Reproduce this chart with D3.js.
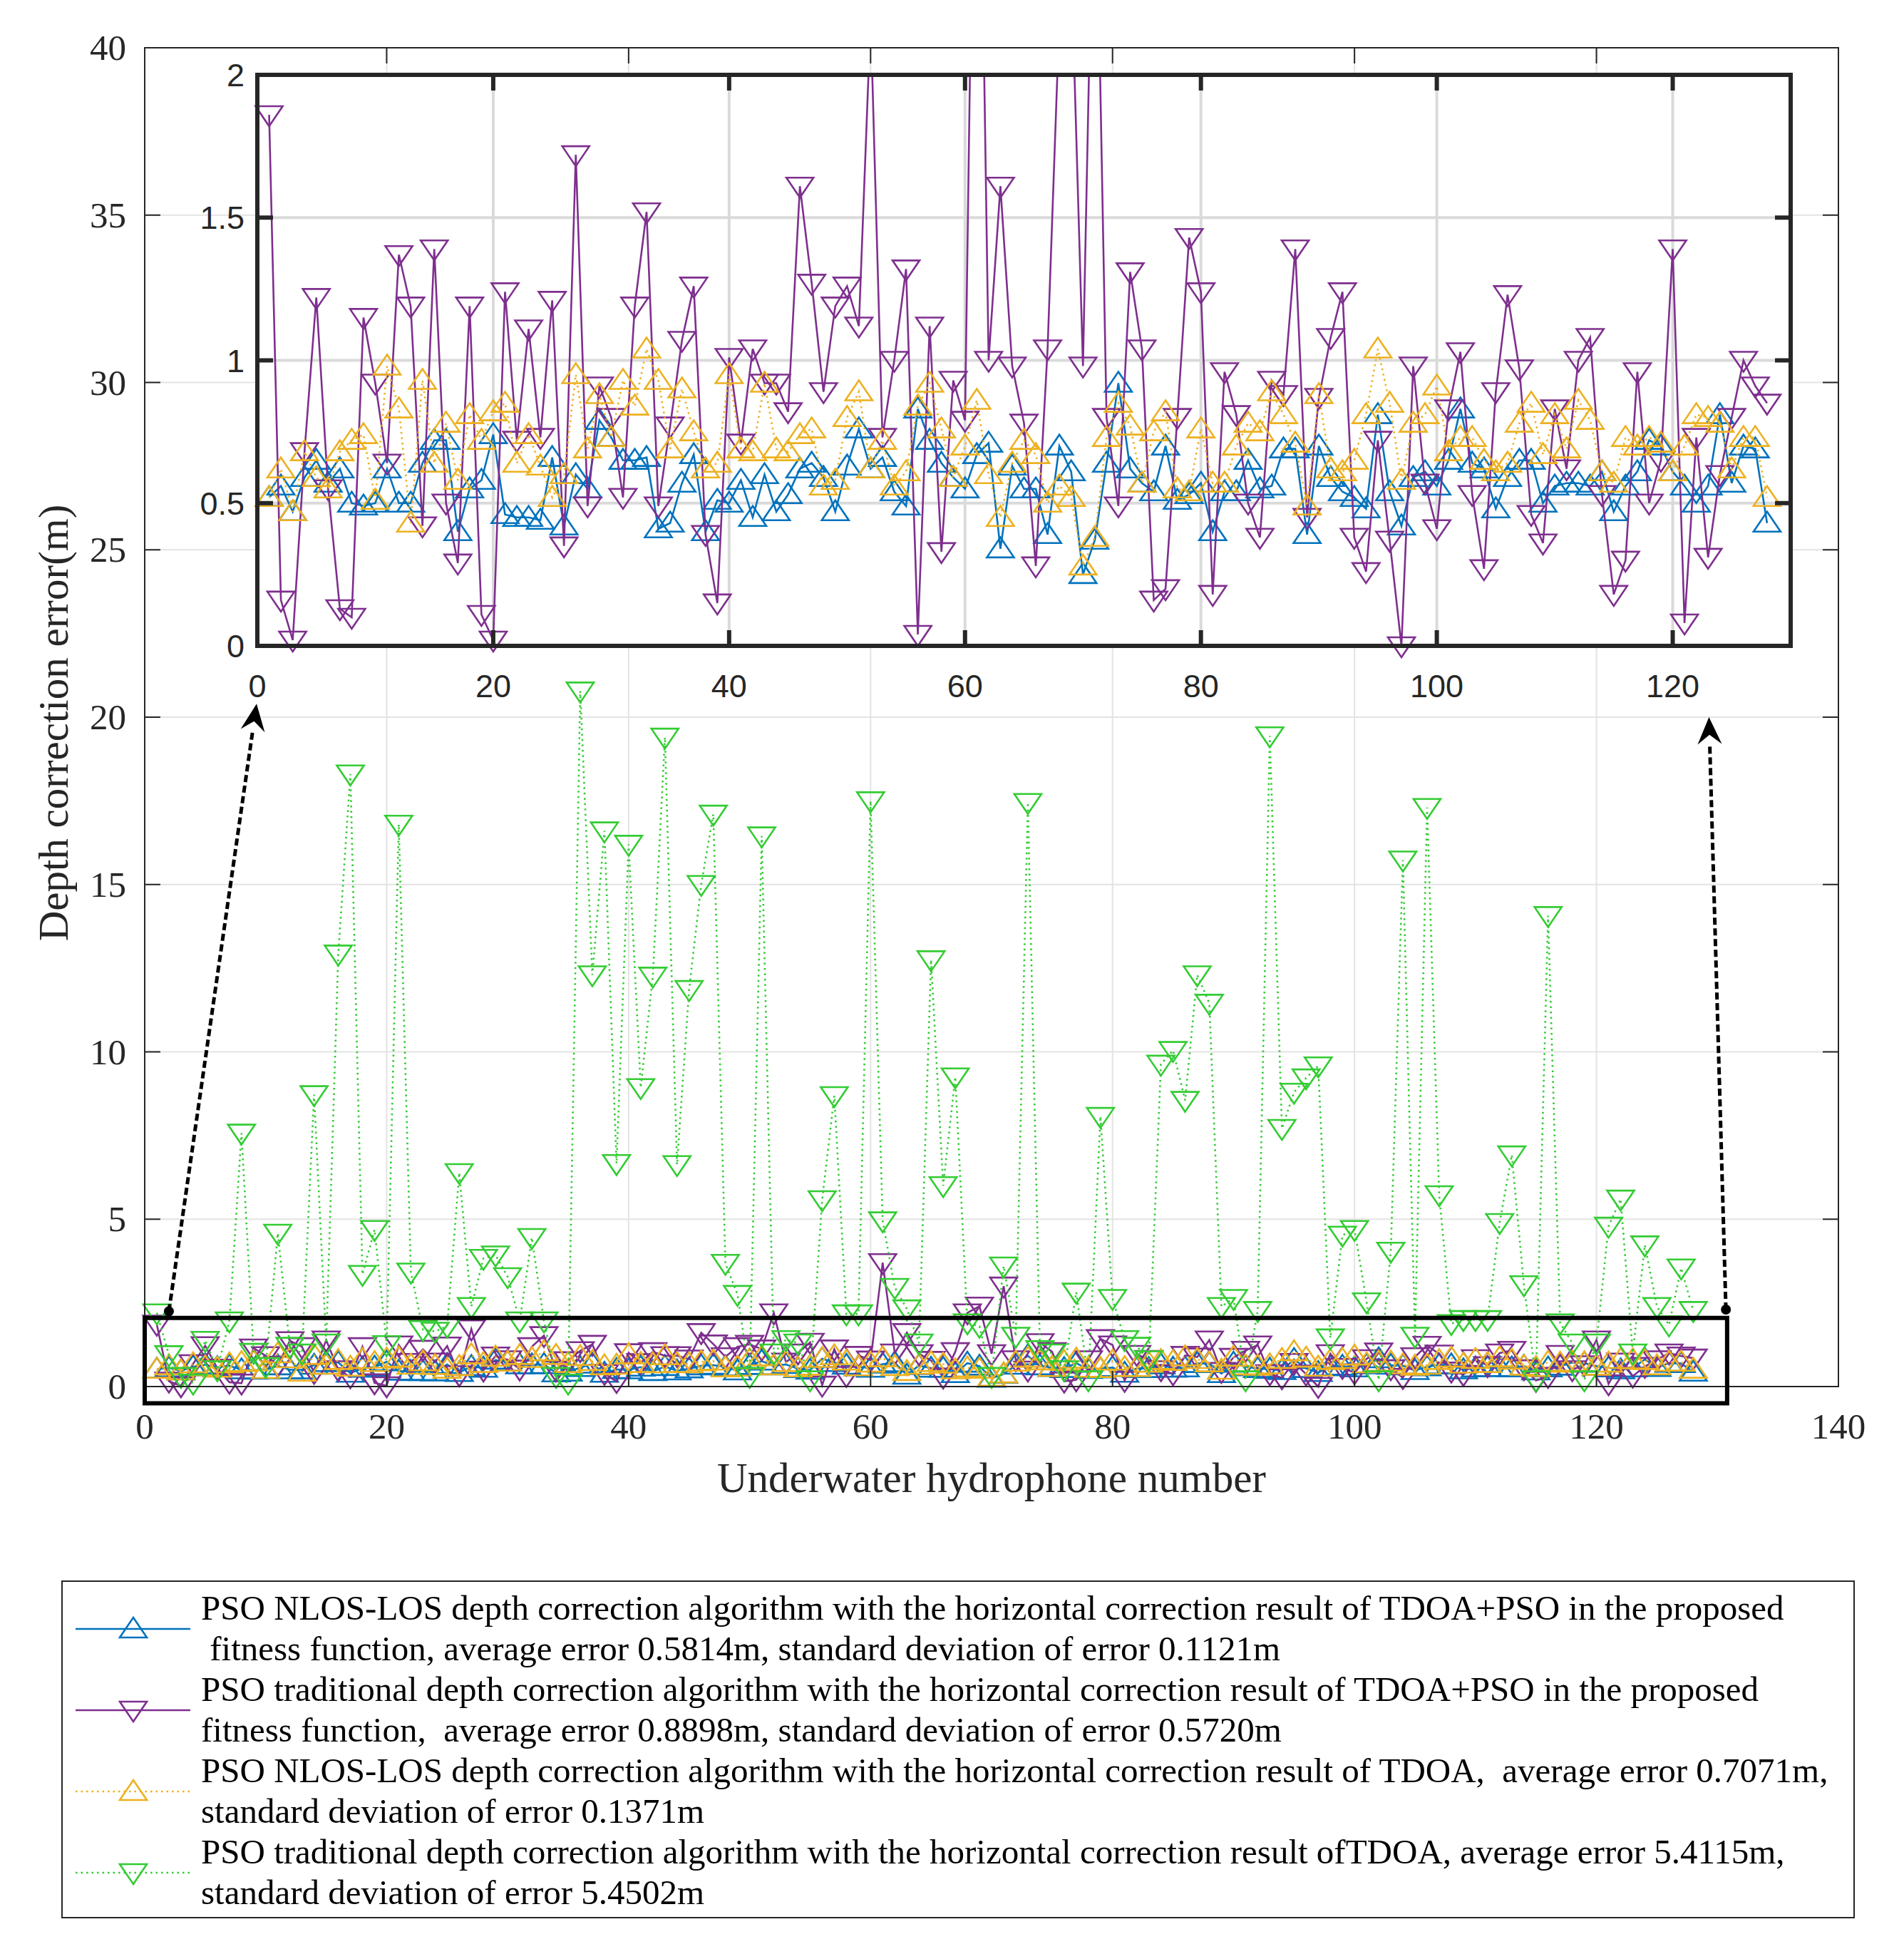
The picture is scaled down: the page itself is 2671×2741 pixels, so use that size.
<!DOCTYPE html>
<html lang="en">
<head>
<meta charset="UTF-8">
<title>Depth correction error</title>
<script src="https://d3js.org/d3.v7.min.js"></script>
<style>
  body { margin: 0; background: #fff; }
  svg text { fill: #262626; }
</style>
</head>
<body>
<script>
// hydrophone numbers (categories)
const hydrophone = d3.range(1, 129);

// PSO NLOS-LOS, TDOA+PSO horizontal correction (blue)
const nlosTdoaPso = [0.52,0.56,0.47,0.59,0.65,0.57,0.62,0.50,0.49,0.50,
  0.62,0.50,0.50,0.64,0.72,0.72,0.40,0.55,0.58,0.74,
  0.46,0.45,0.45,0.44,0.66,0.42,0.60,0.55,0.79,0.73,
  0.65,0.65,0.66,0.41,0.43,0.57,0.67,0.40,0.51,0.50,
  0.58,0.45,0.60,0.47,0.53,0.62,0.64,0.59,0.47,0.63,
  0.76,0.62,0.66,0.54,0.49,0.83,0.72,0.64,0.59,0.55,
  0.67,0.71,0.34,0.63,0.55,0.55,0.39,0.70,0.61,0.25,
  0.37,0.64,0.92,0.62,0.57,0.54,0.70,0.51,0.53,0.57,
  0.40,0.54,0.54,0.65,0.55,0.56,0.69,0.69,0.39,0.70,
  0.59,0.54,0.52,0.48,0.81,0.54,0.42,0.59,0.61,0.56,
  0.65,0.83,0.64,0.62,0.48,0.59,0.65,0.65,0.50,0.56,
  0.57,0.57,0.56,0.61,0.47,0.56,0.61,0.72,0.70,0.61,
  0.56,0.50,0.56,0.81,0.57,0.70,0.69,0.43];

// PSO traditional, TDOA+PSO horizontal correction (purple)
const tradTdoaPso = [1.86,0.16,0.02,0.68,1.22,0.55,0.13,0.10,1.15,0.92,
  0.64,1.37,1.19,0.42,1.39,0.50,0.29,1.19,0.11,0.02,
  1.24,0.72,1.11,0.73,1.21,0.35,1.72,0.49,0.91,0.80,
  0.52,1.19,1.52,0.49,0.77,1.07,1.26,0.39,0.15,1.01,
  0.71,1.04,0.92,0.92,0.82,1.61,1.27,0.89,1.19,1.26,
  1.12,2.20,0.73,1.00,1.32,0.04,1.12,0.33,0.93,0.79,
  3.70,1.00,1.61,0.98,0.78,0.28,1.04,2.20,2.40,0.98,
  3.00,0.80,0.49,1.31,1.04,0.16,0.20,0.80,1.43,1.24,
  0.18,0.96,0.81,0.50,0.38,0.93,0.88,1.39,0.45,0.87,
  1.08,1.24,0.38,0.26,0.72,0.37,0.00,0.98,0.57,0.41,
  0.83,1.03,0.53,0.27,0.89,1.23,0.97,0.46,0.36,0.83,
  0.62,1.00,1.08,0.53,0.18,0.30,0.96,0.50,0.65,1.39,
  0.08,0.73,0.31,0.60,0.80,1.00,0.91,0.85];

// PSO NLOS-LOS, TDOA horizontal correction (orange)
const nlosTdoa = [0.52,0.62,0.47,0.68,0.59,0.55,0.68,0.72,0.74,0.51,
  0.98,0.83,0.43,0.93,0.64,0.78,0.58,0.81,0.72,0.82,
  0.85,0.64,0.74,0.63,0.52,0.60,0.95,0.69,0.88,0.73,
  0.93,0.84,1.04,0.93,0.69,0.90,0.75,0.62,0.64,0.95,
  0.69,0.68,0.92,0.69,0.68,0.74,0.76,0.56,0.58,0.80,
  0.89,0.62,0.72,0.56,0.61,0.84,0.92,0.76,0.59,0.70,
  0.86,0.60,0.45,0.64,0.72,0.67,0.50,0.56,0.52,0.28,
  0.38,0.73,0.85,0.77,0.57,0.75,0.82,0.55,0.54,0.76,
  0.57,0.57,0.70,0.78,0.75,0.89,0.81,0.71,0.49,0.88,
  0.62,0.61,0.65,0.81,1.04,0.85,0.58,0.78,0.81,0.91,
  0.68,0.73,0.73,0.65,0.61,0.64,0.78,0.85,0.67,0.81,
  0.69,0.86,0.79,0.61,0.57,0.73,0.70,0.73,0.71,0.61,
  0.70,0.81,0.80,0.78,0.62,0.73,0.73,0.52];

// PSO traditional, TDOA horizontal correction (green)
const tradTdoa = [2.20,0.95,0.30,0.10,1.38,0.50,1.96,7.57,1.02,0.60,
  4.58,1.20,1.00,8.72,1.30,12.92,18.30,3.35,4.69,1.25,
  16.80,3.42,1.70,1.65,1.80,6.39,2.39,3.83,3.93,3.28,
  1.96,4.45,1.96,0.30,0.10,20.78,12.30,16.60,6.66,16.20,
  8.93,12.26,19.40,6.63,11.86,15.00,17.10,3.68,2.75,0.30,
  16.45,1.00,1.40,1.30,0.20,5.58,8.69,2.17,2.17,17.50,
  4.95,2.96,2.32,1.30,12.75,6.00,9.25,1.90,1.80,0.30,
  3.60,1.50,17.45,1.10,1.00,0.50,2.82,0.20,8.07,2.63,
  1.40,1.20,0.80,9.63,10.04,8.55,12.30,11.45,2.39,2.63,
  0.20,2.27,19.44,7.71,8.79,9.22,9.58,1.45,4.52,4.69,
  2.53,0.20,4.04,15.73,1.50,17.30,5.73,1.88,2.00,2.00,
  2.00,4.90,6.92,3.04,0.20,14.07,1.90,1.30,0.20,1.30,
  4.79,5.60,1.00,4.23,2.39,1.84,3.54,2.27];

// ticks
const mainXTicks = [0, 20, 40, 60, 80, 100, 120, 140];
const mainYTicks = [0, 5, 10, 15, 20, 25, 30, 35, 40];
const insetXTicks = [0, 20, 40, 60, 80, 100, 120];
const insetYTicks = [0, 0.5, 1, 1.5, 2];

// zoom box and arrows, in main data units
const zoomBox = {x0: 0, x1: 130.8, y0: -0.5, y1: 2.05};
const zoomArrows = [
  {from: [2.0, 2.25], to: [9.25, 20.4]},
  {from: [130.7, 2.3], to: [129.3, 20.0]}
];

// legend text
const legendLines = [
  ["PSO NLOS-LOS depth correction algorithm with the horizontal correction result of TDOA+PSO in the proposed",
   " fitness function, average error 0.5814m, standard deviation of error 0.1121m"],
  ["PSO traditional depth correction algorithm with the horizontal correction result of TDOA+PSO in the proposed",
   "fitness function,  average error 0.8898m, standard deviation of error 0.5720m"],
  ["PSO NLOS-LOS depth correction algorithm with the horizontal correction result of TDOA,  average error 0.7071m,",
   "standard deviation of error 0.1371m"],
  ["PSO traditional depth correction algorithm with the horizontal correction result ofTDOA, average error 5.4115m,",
   "standard deviation of error 5.4502m"]
];

const series = [
  {values: nlosTdoaPso, color: "#0072BD", dash: null, marker: "up", inset: true},
  {values: tradTdoaPso, color: "#7E2F8E", dash: null, marker: "down", inset: true},
  {values: nlosTdoa, color: "#EDB120", dash: "2.5,5", marker: "up", inset: true},
  {values: tradTdoa, color: "#33CC33", dash: "2.5,5", marker: "down", inset: false}
];

const W = 2671, H = 2741;
const svg = d3.select("body").append("svg")
  .attr("width", W).attr("height", H)
  .style("font-family", "'Liberation Serif', 'Times New Roman', serif");

svg.append("rect").attr("width", W).attr("height", H).attr("fill", "#fff");

const markerPath = {
  up: "M0,-16L19,12L-19,12Z",
  down: "M0,16L19,-12L-19,-12Z"
};

// ---------- main axes ----------
const mx = d3.scaleLinear().domain([0, 140]).range([203, 2579]);
const my = d3.scaleLinear().domain([0, 40]).range([1945, 67]);

const main = svg.append("g");

// grid
main.append("g").selectAll("line").data(mainXTicks.slice(1, -1)).join("line")
  .attr("x1", d => mx(d)).attr("x2", d => mx(d))
  .attr("y1", my(0)).attr("y2", my(40))
  .attr("stroke", "#e3e3e3").attr("stroke-width", 2);
main.append("g").selectAll("line").data(mainYTicks.slice(1, -1)).join("line")
  .attr("x1", mx(0)).attr("x2", mx(140))
  .attr("y1", d => my(d)).attr("y2", d => my(d))
  .attr("stroke", "#e3e3e3").attr("stroke-width", 2);

function drawSeries(g, s, xs, ys, clipMarkers) {
  const line = d3.line().x((d, i) => xs(hydrophone[i])).y(d => ys(d));
  g.append("path").datum(s.values)
    .attr("d", line)
    .attr("fill", "none")
    .attr("stroke", s.color)
    .attr("stroke-width", 2.6)
    .attr("stroke-dasharray", s.dash);
  const pts = s.values.map((v, i) => ({x: hydrophone[i], y: v}))
    .filter(p => !clipMarkers || (p.y >= ys.domain()[0] && p.y <= ys.domain()[1]));
  g.append("g").selectAll("path").data(pts).join("path")
    .attr("d", markerPath[s.marker])
    .attr("transform", p => `translate(${xs(p.x)},${ys(p.y)})`)
    .attr("fill", "none")
    .attr("stroke", s.color)
    .attr("stroke-width", 2.6);
}

series.forEach(s => drawSeries(main.append("g"), s, mx, my, false));

// box + ticks
main.append("rect")
  .attr("x", mx(0)).attr("y", my(40))
  .attr("width", mx(140) - mx(0)).attr("height", my(0) - my(40))
  .attr("fill", "none").attr("stroke", "#262626").attr("stroke-width", 2);

const tickLen = 22;
mainXTicks.forEach(t => {
  main.append("line").attr("x1", mx(t)).attr("x2", mx(t))
    .attr("y1", my(0)).attr("y2", my(0) - tickLen)
    .attr("stroke", "#262626").attr("stroke-width", 2);
  main.append("line").attr("x1", mx(t)).attr("x2", mx(t))
    .attr("y1", my(40)).attr("y2", my(40) + tickLen)
    .attr("stroke", "#262626").attr("stroke-width", 2);
});
mainYTicks.forEach(t => {
  main.append("line").attr("x1", mx(0)).attr("x2", mx(0) + tickLen)
    .attr("y1", my(t)).attr("y2", my(t))
    .attr("stroke", "#262626").attr("stroke-width", 2);
  main.append("line").attr("x1", mx(140)).attr("x2", mx(140) - tickLen)
    .attr("y1", my(t)).attr("y2", my(t))
    .attr("stroke", "#262626").attr("stroke-width", 2);
});

main.append("g").selectAll("text").data(mainXTicks).join("text")
  .attr("x", d => mx(d)).attr("y", my(0) + 73)
  .attr("text-anchor", "middle").attr("font-size", 51)
  .text(d => d);
main.append("g").selectAll("text").data(mainYTicks).join("text")
  .attr("x", mx(0) - 26).attr("y", d => my(d) + 17)
  .attr("text-anchor", "end").attr("font-size", 51)
  .text(d => d);

main.append("text")
  .attr("x", (mx(0) + mx(140)) / 2).attr("y", 2093)
  .attr("text-anchor", "middle").attr("font-size", 59)
  .text("Underwater hydrophone number");
main.append("text")
  .attr("transform", `translate(95,${(my(0) + my(40)) / 2 + 8}) rotate(-90)`)
  .attr("text-anchor", "middle").attr("font-size", 59)
  .text("Depth correction error(m)");

// zoom box
main.append("rect")
  .attr("x", mx(zoomBox.x0)).attr("y", my(zoomBox.y1))
  .attr("width", mx(zoomBox.x1) - mx(zoomBox.x0))
  .attr("height", my(zoomBox.y0) - my(zoomBox.y1))
  .attr("fill", "none").attr("stroke", "#000").attr("stroke-width", 6);

// arrows
zoomArrows.forEach(a => {
  const x1 = mx(a.from[0]), y1 = my(a.from[1]);
  const x2 = mx(a.to[0]), y2 = my(a.to[1]);
  const ang = Math.atan2(y2 - y1, x2 - x1);
  const headL = 38, headW = 17;
  const bx = x2 - headL * Math.cos(ang), by = y2 - headL * Math.sin(ang);
  main.append("line")
    .attr("x1", x1).attr("y1", y1).attr("x2", bx).attr("y2", by)
    .attr("stroke", "#000").attr("stroke-width", 5)
    .attr("stroke-dasharray", "10,5");
  const px = -Math.sin(ang), py = Math.cos(ang);
  main.append("path")
    .attr("d", `M${x2},${y2}L${bx + px * headW},${by + py * headW}L${bx + 0.35 * headL * Math.cos(ang)},${by + 0.35 * headL * Math.sin(ang)}L${bx - px * headW},${by - py * headW}Z`)
    .attr("fill", "#000");
  main.append("circle").attr("cx", x1).attr("cy", y1).attr("r", 7).attr("fill", "#000");
});

// ---------- inset axes ----------
const ix = d3.scaleLinear().domain([0, 130]).range([361, 2512]);
const iy = d3.scaleLinear().domain([0, 2]).range([906, 105]);

const inset = svg.append("g").style("font-family", "'Liberation Sans', Arial, sans-serif");
inset.append("rect")
  .attr("x", ix(0)).attr("y", iy(2))
  .attr("width", ix(130) - ix(0)).attr("height", iy(0) - iy(2))
  .attr("fill", "#fff");

inset.append("g").selectAll("line").data(insetXTicks.slice(1)).join("line")
  .attr("x1", d => ix(d)).attr("x2", d => ix(d))
  .attr("y1", iy(0)).attr("y2", iy(2))
  .attr("stroke", "#dadada").attr("stroke-width", 4);
inset.append("g").selectAll("line").data(insetYTicks.slice(1, -1)).join("line")
  .attr("x1", ix(0)).attr("x2", ix(130))
  .attr("y1", d => iy(d)).attr("y2", d => iy(d))
  .attr("stroke", "#dadada").attr("stroke-width", 4);

svg.append("defs").append("clipPath").attr("id", "insetClip")
  .append("rect")
  .attr("x", ix(0)).attr("y", iy(2))
  .attr("width", ix(130) - ix(0)).attr("height", iy(0) - iy(2));

series.filter(s => s.inset).forEach(s => {
  const g = inset.append("g");
  const line = d3.line().x((d, i) => ix(hydrophone[i])).y(d => iy(d));
  g.append("path").datum(s.values)
    .attr("d", line)
    .attr("clip-path", "url(#insetClip)")
    .attr("fill", "none")
    .attr("stroke", s.color)
    .attr("stroke-width", 2.6)
    .attr("stroke-dasharray", s.dash);
  const pts = s.values.map((v, i) => ({x: hydrophone[i], y: v}))
    .filter(p => p.y >= 0 && p.y <= 2);
  g.append("g").selectAll("path").data(pts).join("path")
    .attr("d", markerPath[s.marker])
    .attr("transform", p => `translate(${ix(p.x)},${iy(p.y)})`)
    .attr("fill", "none")
    .attr("stroke", s.color)
    .attr("stroke-width", 2.6);
});

inset.append("rect")
  .attr("x", ix(0)).attr("y", iy(2))
  .attr("width", ix(130) - ix(0)).attr("height", iy(0) - iy(2))
  .attr("fill", "none").attr("stroke", "#262626").attr("stroke-width", 6);

const iTick = 22;
insetXTicks.forEach(t => {
  inset.append("line").attr("x1", ix(t)).attr("x2", ix(t))
    .attr("y1", iy(0)).attr("y2", iy(0) - iTick)
    .attr("stroke", "#262626").attr("stroke-width", 6);
  inset.append("line").attr("x1", ix(t)).attr("x2", ix(t))
    .attr("y1", iy(2)).attr("y2", iy(2) + iTick)
    .attr("stroke", "#262626").attr("stroke-width", 6);
});
insetYTicks.forEach(t => {
  inset.append("line").attr("x1", ix(0)).attr("x2", ix(0) + iTick)
    .attr("y1", iy(t)).attr("y2", iy(t))
    .attr("stroke", "#262626").attr("stroke-width", 6);
  inset.append("line").attr("x1", ix(130)).attr("x2", ix(130) - iTick)
    .attr("y1", iy(t)).attr("y2", iy(t))
    .attr("stroke", "#262626").attr("stroke-width", 6);
});

inset.append("g").selectAll("text").data(insetXTicks).join("text")
  .attr("x", d => ix(d)).attr("y", iy(0) + 72)
  .attr("text-anchor", "middle").attr("font-size", 45)
  .text(d => d);
inset.append("g").selectAll("text").data(insetYTicks).join("text")
  .attr("x", ix(0) - 18).attr("y", d => iy(d) + 16)
  .attr("text-anchor", "end").attr("font-size", 45)
  .text(d => d);

// ---------- legend ----------
const leg = svg.append("g");
leg.append("rect")
  .attr("x", 87).attr("y", 2218).attr("width", 2514).attr("height", 472)
  .attr("fill", "#fff").attr("stroke", "#262626").attr("stroke-width", 2);

series.forEach((s, i) => {
  const cy = 2285 + i * 114;
  leg.append("line").attr("x1", 106).attr("x2", 267)
    .attr("y1", cy).attr("y2", cy)
    .attr("stroke", s.color).attr("stroke-width", 2.6)
    .attr("stroke-dasharray", s.dash);
  leg.append("path").attr("d", markerPath[s.marker])
    .attr("transform", `translate(187,${cy})`)
    .attr("fill", "none").attr("stroke", s.color).attr("stroke-width", 2.6);
  legendLines[i].forEach((t, j) => {
    leg.append("text")
      .attr("x", 282).attr("y", 2272 + i * 114 + j * 57)
      .attr("font-size", 49)
      .attr("xml:space", "preserve")
      .style("white-space", "pre")
      .style("fill", "#000")
      .text(t);
  });
});
</script>
</body>
</html>
